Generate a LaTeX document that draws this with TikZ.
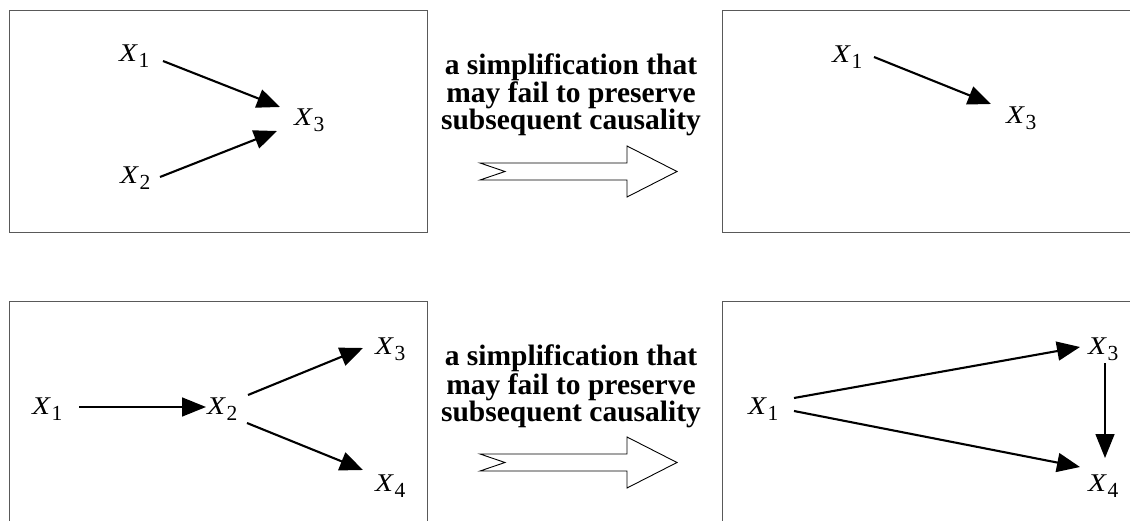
\documentclass[tikz,border=0pt]{standalone}
\usepackage{fontspec}
\usepackage{graphicx}
\setmainfont{Liberation Serif}
\usetikzlibrary{arrows.meta}
\newcommand{\xvar}[1]{\scalebox{1.15}[1]{\textit{X}}\kern0.5pt\raisebox{-6pt}{\fontsize{21.5}{21.5}\selectfont #1}}
\tikzset{
  lbl/.style={anchor=base west, inner sep=0pt, font=\fontsize{25.5}{25.5}\selectfont},
  arr/.style={line width=2.1pt, -{Triangle[length=23pt, width=19pt]}},
  thinarr/.style={line width=1.6pt, -{Triangle[length=24pt, width=19pt]}},
  frame/.style={draw=black!65, line width=1pt},
  capline/.style={anchor=base, inner sep=0pt, font=\bfseries\fontsize{29.5}{29.5}\selectfont},
  hollow/.style={draw=black, line width=0.9pt, fill=white, line join=miter},
}
\begin{document}
\begin{tikzpicture}[x=1pt, y=-1pt]
\useasboundingbox (0,0) rectangle (1130,521);
\begin{scope}
\clip (0,0) rectangle (1130,521);
% frames
\draw[frame] (9,11) rectangle (427,233);
\draw[frame] (722,11) rectangle (1200,233);
\draw[frame] (9,302) rectangle (427,600);
\draw[frame] (722,302) rectangle (1200,600);
\end{scope}

% ---------- top row ----------
\node[lbl] (a1) at (119,62) {\xvar{1}};
\node[lbl] (a2) at (120,184) {\xvar{2}};
\node[lbl] (a3) at (294,126) {\xvar{3}};
\draw[arr] ([shift={(44,-1)}]a1.base west) -- ([shift={(-14,-19)}]a3.base west);
\draw[arr] ([shift={(40,-7)}]a2.base west) -- ([shift={(-17,5)}]a3.base west);

\node[capline] (t1) at (571,75) {a simplification that};
\node[capline] (t2) at (571,103) {may fail to preserve};
\node[capline] (t3) at (571,130) {subsequent causality};
\draw[hollow] (480,163) -- (627,163) -- (627,146) -- (677,171.5) -- (627,197) -- (627,180) -- (480,180) -- (505,171.5) -- cycle;

\node[lbl] (b1) at (832,63) {\xvar{1}};
\node[lbl] (b3) at (1006,124) {\xvar{3}};
\draw[arr] ([shift={(42,-6)}]b1.base west) -- ([shift={(-15,-20)}]b3.base west);

% ---------- bottom row ----------
\node[lbl] (c1) at (32,414) {\xvar{1}};
\node[lbl] (c2) at (207,414) {\xvar{2}};
\node[lbl] (c3) at (375,354) {\xvar{3}};
\node[lbl] (c4) at (375,491) {\xvar{4}};
\draw[thinarr] ([shift={(47,-7)}]c1.base west) -- ([shift={(-1,-7)}]c2.base west);
\draw[arr] ([shift={(41,-19)}]c2.base west) -- ([shift={(-12,-6)}]c3.base west);
\draw[arr] ([shift={(40,9)}]c2.base west) -- ([shift={(-12,-21)}]c4.base west);

\node[capline] (u1) at (571,366) {a simplification that};
\node[capline] (u2) at (571,394) {may fail to preserve};
\node[capline] (u3) at (571,421) {subsequent causality};
\draw[hollow] (480,454) -- (627,454) -- (627,437) -- (677,462.5) -- (627,488) -- (627,471) -- (480,471) -- (505,462.5) -- cycle;

\node[lbl] (d1) at (748,414) {\xvar{1}};
\node[lbl] (d3) at (1088,354) {\xvar{3}};
\node[lbl] (d4) at (1088,491) {\xvar{4}};
\draw[arr] ([shift={(46,-16)}]d1.base west) -- ([shift={(-8,-7)}]d3.base west);
\draw[arr] ([shift={(46,-3)}]d1.base west) -- ([shift={(-8,-24)}]d4.base west);
\draw[thinarr] ([shift={(17,9)}]d3.base west) -- ([shift={(17,-33)}]d4.base west);
\end{tikzpicture}
\end{document}
